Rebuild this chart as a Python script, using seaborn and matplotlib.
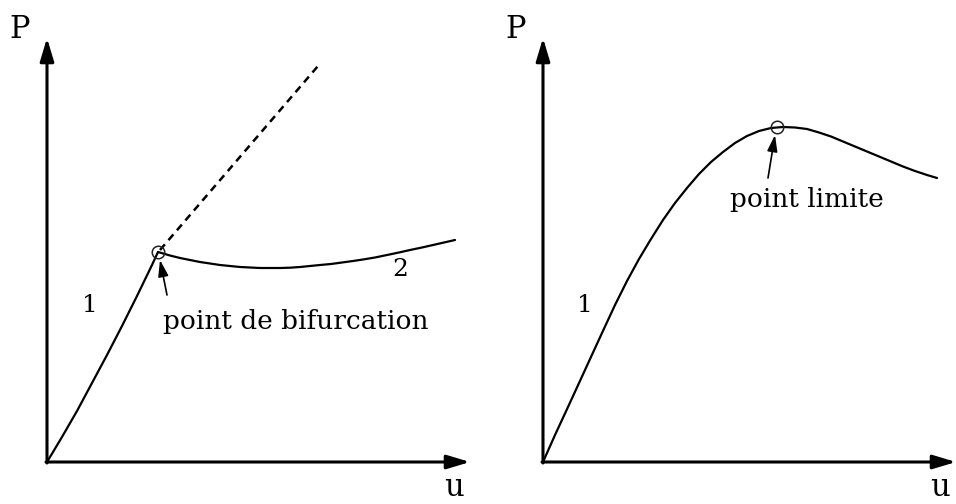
import matplotlib
matplotlib.use("Agg")
import matplotlib.pyplot as plt
import seaborn as sns

sns.set_style("white")
plt.rcParams['font.family'] = ['DejaVu Serif']
plt.rcParams['text.color'] = 'black'

# ---- data (u, P in chart units, origin at axes corner) ----
# left panel: bifurcation
branch1_u = [0, 15, 30, 45, 60, 75, 90, 105, 111]
branch1_P = [0, 25, 51, 79, 107, 136, 166, 197, 210]
dashed_u = [113, 271]
dashed_P = [212, 396]
branch2_u = [111, 123, 133, 143, 153, 163, 173, 183, 193, 203, 213, 223, 233, 243, 253, 263,
             273, 284, 295, 306, 316, 328, 340, 352, 363, 375, 386, 397, 408]
branch2_P = [210, 206.5, 204, 202, 200, 198.5, 197, 196, 195, 194.5, 194, 194, 194, 194.3, 195, 196,
             197, 198, 199.5, 201, 202.5, 204.5, 207, 209.5, 212, 214.5, 217, 219.5, 222]
bif_point = (111, 210)

# right panel: limit point
limit_u = [0, 12, 25, 42, 59, 72, 84, 96, 108, 120, 132, 144, 156, 168, 180, 192,
           204, 216, 228, 240, 252, 264, 276, 288, 300, 312, 324, 336, 348, 360,
           372, 384, 394]
limit_P = [0, 27, 55, 92, 129, 157, 181, 203, 223, 242, 259, 274, 288, 300, 310, 319,
           326, 331, 334, 335, 334.5, 333, 329.5, 325.5, 320.5, 315.5, 310.5, 305.5, 300.5, 295.5,
           291, 287, 284]
lim_point = (234, 335)

fig = plt.figure(figsize=(9.56, 5.04), dpi=100)
W, H = 956, 504

def make_ax(ox, oy, w, h):
    ax = fig.add_axes([ox / W, (H - oy) / H, w / W, h / H])
    ax.set_xlim(0, w)
    ax.set_ylim(0, h)
    ax.axis('off')
    return ax

axL = make_ax(47, 462, 423, 424)
axR = make_ax(543, 462, 413, 424)

arrow_axis = dict(arrowstyle='-|>,head_length=1.0,head_width=0.3', color='black',
                  lw=2.2, shrinkA=0, shrinkB=0, mutation_scale=14)
small_arrow = dict(arrowstyle='-|>,head_length=0.9,head_width=0.28', color='black',
                   lw=1.2, shrinkA=0, shrinkB=0, mutation_scale=11)

for ax, xmax in ((axL, 423), (axR, 413)):
    ax.annotate('', xy=(xmax, 0), xytext=(-1, 0), arrowprops=arrow_axis, annotation_clip=False)
    ax.annotate('', xy=(0, 424), xytext=(0, -1), arrowprops=arrow_axis, annotation_clip=False)
    ax.text(-27, 432, 'P', fontsize=22, ha='center', va='center')
    ax.text(xmax - 16, -26, 'u', fontsize=22, ha='center', va='center')

# left curves
sns.lineplot(x=branch1_u, y=branch1_P, ax=axL, color='black', lw=1.6, sort=False)
sns.lineplot(x=dashed_u, y=dashed_P, ax=axL, color='black', lw=1.8, sort=False,
             linestyle=(0, (3, 2.2)))
sns.lineplot(x=branch2_u, y=branch2_P, ax=axL, color='black', lw=1.6, sort=False)
axL.plot([bif_point[0]], [bif_point[1]], marker='o', ms=9, mfc='none', mec='#222222', mew=1.1)
axL.annotate('', xy=(bif_point[0] + 2, bif_point[1] - 8), xytext=(120, 167),
             arrowprops=small_arrow)
axL.text(43, 157, '1', fontsize=18, ha='center', va='center')
axL.text(353, 192, '2', fontsize=18, ha='center', va='center')
axL.text(249, 140, 'point de bifurcation', fontsize=19, ha='center', va='center')

# right curve
sns.lineplot(x=limit_u, y=limit_P, ax=axR, color='black', lw=1.6, sort=False)
axR.plot([lim_point[0]], [lim_point[1]], marker='o', ms=9, mfc='none', mec='#222222', mew=1.1)
axR.annotate('', xy=(lim_point[0] - 2, lim_point[1] - 8), xytext=(225, 284),
             arrowprops=small_arrow)
axR.text(42, 157, '1', fontsize=18, ha='center', va='center')
axR.text(264, 262, 'point limite', fontsize=19, ha='center', va='center')

fig.savefig('out.png', dpi=100)
